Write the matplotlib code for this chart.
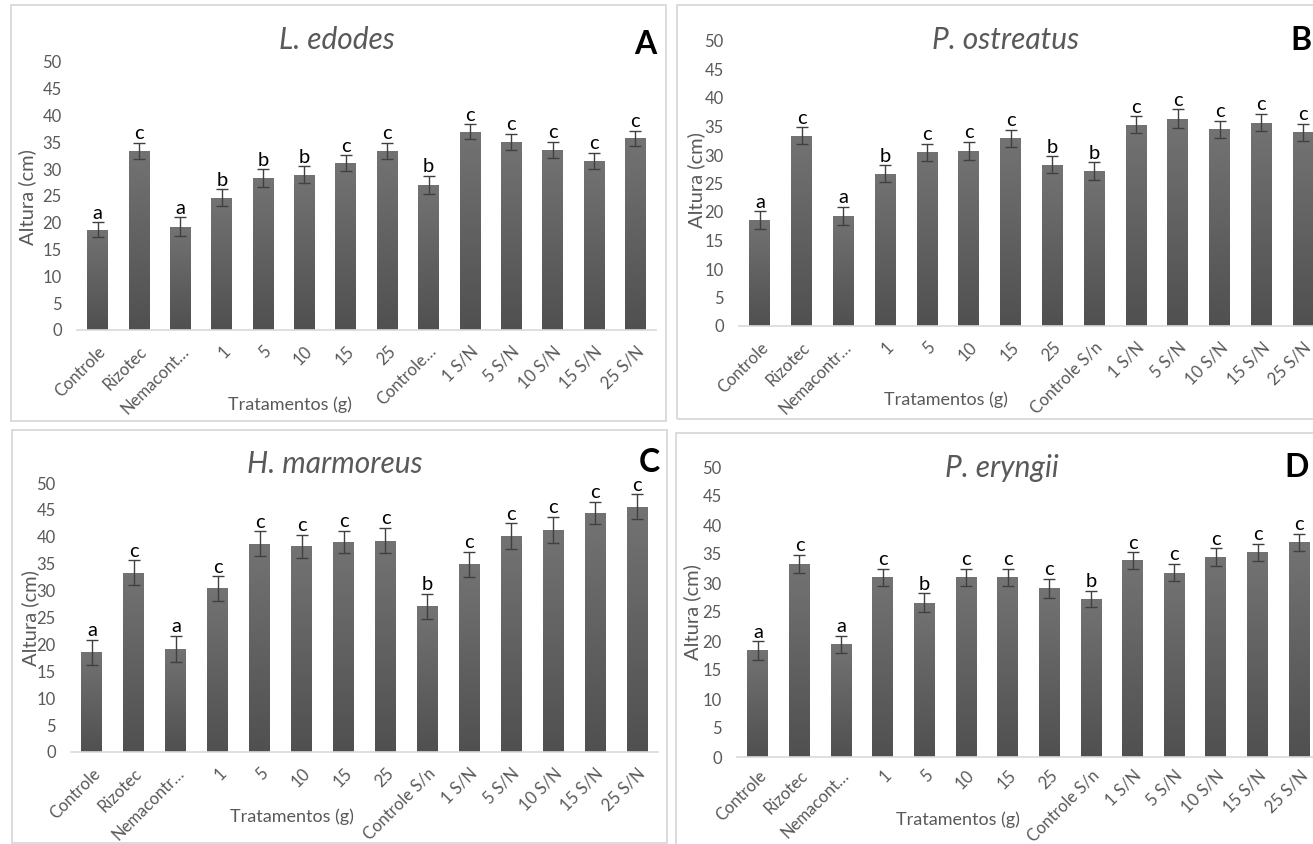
import numpy as np
import matplotlib
matplotlib.use("Agg")
import matplotlib.pyplot as plt
from matplotlib.colors import LinearSegmentedColormap
from matplotlib.patches import Rectangle

plt.rcParams['font.family'] = ['Lato', 'DejaVu Sans']

# ---- data -------------------------------------------------------------
labels_a = ["Controle", "Rizotec", "Nemacont…", "1", "5", "10", "15", "25",
            "Controle…", "1 S/N", "5 S/N", "10 S/N", "15 S/N", "25 S/N"]
labels_b = ["Controle", "Rizotec", "Nemacontr…", "1", "5", "10", "15", "25",
            "Controle S/n", "1 S/N", "5 S/N", "10 S/N", "15 S/N", "25 S/N"]
labels_c = ["Controle", "Rizotec", "Nemacontr…", "1", "5", "10", "15", "25",
            "Controle S/n", "1 S/N", "5 S/N", "10 S/N", "15 S/N", "25 S/N"]
labels_d = ["Controle", "Rizotec", "Nemacont…", "1", "5", "10", "15", "25",
            "Controle S/n", "1 S/N", "5 S/N", "10 S/N", "15 S/N", "25 S/N"]

edodes_mean = [18.7, 33.4, 19.3, 24.7, 28.3, 29.0, 31.1, 33.4, 27.1, 37.0, 35.1, 33.6, 31.6, 35.8]
edodes_err = [1.4, 1.5, 1.7, 1.6, 1.7, 1.6, 1.5, 1.5, 1.7, 1.4, 1.5, 1.5, 1.5, 1.4]
edodes_grp = ["a", "c", "a", "b", "b", "b", "c", "c", "b", "c", "c", "c", "c", "c"]

ostreatus_mean = [18.6, 33.4, 19.3, 26.7, 30.5, 30.7, 32.9, 28.3, 27.2, 35.3, 36.4, 34.5, 35.7, 34.0]
ostreatus_err = [1.5, 1.5, 1.6, 1.5, 1.5, 1.6, 1.5, 1.5, 1.5, 1.5, 1.6, 1.5, 1.5, 1.5]
ostreatus_grp = ["a", "c", "a", "b", "c", "c", "c", "b", "b", "c", "c", "c", "c", "c"]

marmoreus_mean = [18.5, 33.3, 19.2, 30.4, 38.7, 38.2, 39.0, 39.3, 27.1, 34.9, 40.1, 41.3, 44.4, 45.6]
marmoreus_err = [2.4, 2.3, 2.4, 2.3, 2.3, 2.2, 2.1, 2.4, 2.3, 2.3, 2.4, 2.4, 2.1, 2.3]
marmoreus_grp = ["a", "c", "a", "c", "c", "c", "c", "c", "b", "c", "c", "c", "c", "c"]

eryngii_mean = [18.4, 33.3, 19.4, 31.0, 26.6, 31.0, 31.0, 29.1, 27.3, 33.9, 31.8, 34.5, 35.3, 37.0]
eryngii_err = [1.6, 1.6, 1.5, 1.5, 1.6, 1.5, 1.5, 1.6, 1.4, 1.4, 1.5, 1.5, 1.5, 1.5]
eryngii_grp = ["a", "c", "a", "c", "b", "c", "c", "c", "b", "c", "c", "c", "c", "c"]

titles = ["L. edodes", "P. ostreatus", "H. marmoreus", "P. eryngii"]
panel_tags = ["A", "B", "C", "D"]
yticks = [0, 5, 10, 15, 20, 25, 30, 35, 40, 45, 50]

# ---- figure ------------------------------------------------------------
W, H = 1313, 844
fig = plt.figure(figsize=(W / 100, H / 100), dpi=100)
fig.patch.set_facecolor("white")


def fx(px):
    return px / W


def fy(py):
    return 1 - py / H


grey_txt = "#595959"
bar_cmap = LinearSegmentedColormap.from_list("bargrad", ["#505050", "#737373"])
grad = np.linspace(0, 1, 256).reshape(256, 1)

panels = [
    dict(labels=labels_a, mean=edodes_mean, err=edodes_err, grp=edodes_grp,
         ax=(77, 656, 330, 62), frame=(11, 5, 666, 421), xpad=9.5,
         title=(337, 40), tag=(645, 45), ylab=(27, 197), xlab=(290, 405)),
    dict(labels=labels_b, mean=ostreatus_mean, err=ostreatus_err, grp=ostreatus_grp,
         ax=(739, 1324, 326, 41), frame=(677, 5, 1340, 419), xpad=9.5,
         title=(1006, 40), tag=(1301, 40), ylab=(696, 180), xlab=(946, 400)),
    dict(labels=labels_c, mean=marmoreus_mean, err=marmoreus_err, grp=marmoreus_grp,
         ax=(71, 658, 752, 483), frame=(12, 430, 667, 843), xpad=9.5,
         title=(335, 464), tag=(649, 462), ylab=(30, 618), xlab=(292, 817)),
    dict(labels=labels_d, mean=eryngii_mean, err=eryngii_err, grp=eryngii_grp,
         ax=(737, 1320, 757, 467), frame=(676, 433, 1340, 860), xpad=7.5,
         title=(1002, 468), tag=(1297, 468), ylab=(692, 612), xlab=(958, 820)),
]

for i, p in enumerate(panels):
    x0, x1, y0, y1 = p["ax"]
    # panel border
    fl, ft, fr, fb = p["frame"]
    fig.patches.append(Rectangle((fx(fl), fy(fb)), fx(fr - fl), (fb - ft) / H,
                                 transform=fig.transFigure, fill=False,
                                 edgecolor="#d9d9d9", linewidth=1.3, zorder=0))

    ax = fig.add_axes([fx(x0), fy(y0), fx(x1 - x0), (y0 - y1) / H])
    ax.set_facecolor("none")
    xs = np.arange(len(p["mean"]))
    bars = ax.bar(xs, p["mean"], width=0.5, color="#5e5e5e", zorder=2)
    for b in bars:
        im = ax.imshow(grad, extent=(b.get_x(), b.get_x() + b.get_width(), 0, b.get_height()),
                       origin="lower", aspect="auto", cmap=bar_cmap, zorder=2.5)
        im.set_clip_path(b)
    ax.errorbar(xs, p["mean"], yerr=p["err"], fmt="none", ecolor="#404040",
                elinewidth=1.0, capsize=4, capthick=1.0, zorder=3)
    for x, m, e, g in zip(xs, p["mean"], p["err"], p["grp"]):
        ax.annotate(g, (x, m + e), xytext=(0, 2.5), textcoords="offset points",
                    ha="center", va="baseline", fontsize=14.5, color="black", zorder=4)

    ax.set_xlim(-0.5, len(xs) - 0.5)
    ax.set_ylim(0, 50)
    ax.set_yticks(yticks)
    ax.set_xticks(xs)
    ax.set_xticklabels(p["labels"], rotation=45, ha="right", va="top",
                       rotation_mode="anchor", fontsize=12, color=grey_txt)
    ax.tick_params(axis="y", length=0, pad=11, labelsize=12, labelcolor=grey_txt)
    ax.tick_params(axis="x", length=0, pad=p["xpad"])
    for s in ["top", "right", "left"]:
        ax.spines[s].set_visible(False)
    ax.spines["bottom"].set_color("#d9d9d9")
    ax.spines["bottom"].set_linewidth(1.2)

    fig.text(fx(p["title"][0]), fy(p["title"][1]), titles[i], style="italic",
             fontsize=21.5, color=grey_txt, ha="center", va="center")
    fig.text(fx(p["tag"][0]), fy(p["tag"][1]), panel_tags[i], fontweight="bold",
             fontsize=23, color="black", ha="center", va="center")
    fig.text(fx(p["ylab"][0]), fy(p["ylab"][1]), "Altura (cm)", rotation=90,
             fontsize=14.5, color=grey_txt, ha="center", va="center")
    fig.text(fx(p["xlab"][0]), fy(p["xlab"][1]), "Tratamentos (g)",
             fontsize=13, color=grey_txt, ha="center", va="center")

fig.savefig("out.png", dpi=100)
